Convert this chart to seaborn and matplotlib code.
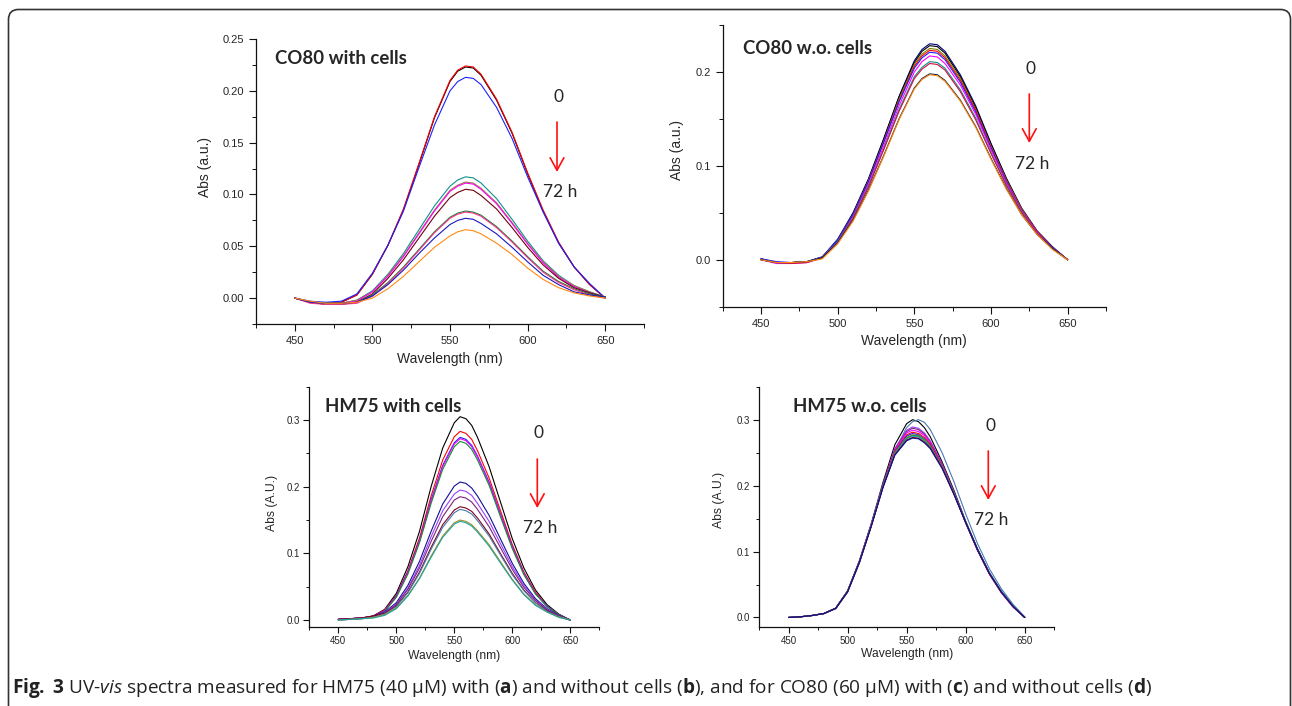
import numpy as np
import pandas as pd
import seaborn as sns
import matplotlib.pyplot as plt
from matplotlib.patches import FancyBboxPatch
from matplotlib.transforms import IdentityTransform
from matplotlib.ticker import MultipleLocator, FuncFormatter

W, H = 1292, 706

# wavelength grid (nm) shared by all spectra
wl = [450, 460, 470, 480, 490, 500, 510, 520, 530, 540, 550, 555, 560, 565, 570,
      580, 590, 600, 610, 620, 630, 640, 650]

# CO80 with cells (panel top-left)
co80_cells = [
    [0.000, -0.004, -0.005, -0.004, 0.003, 0.023, 0.051, 0.085, 0.129, 0.174, 0.209, 0.219, 0.223, 0.222, 0.215, 0.191, 0.159, 0.120, 0.084, 0.053, 0.030, 0.013, 0.000],
    [0.000, -0.004, -0.005, -0.004, 0.003, 0.023, 0.051, 0.086, 0.130, 0.175, 0.210, 0.220, 0.224, 0.223, 0.216, 0.192, 0.160, 0.121, 0.085, 0.054, 0.030, 0.013, 0.000],
    [0.000, -0.003, -0.004, -0.003, 0.004, 0.024, 0.051, 0.084, 0.126, 0.167, 0.200, 0.209, 0.213, 0.212, 0.206, 0.184, 0.154, 0.117, 0.083, 0.053, 0.030, 0.014, 0.000],
    [0.000, -0.004, -0.005, -0.005, -0.002, 0.007, 0.023, 0.043, 0.066, 0.089, 0.108, 0.114, 0.117, 0.116, 0.111, 0.096, 0.076, 0.055, 0.036, 0.022, 0.012, 0.006, 0.001],
    [0.000, -0.004, -0.005, -0.005, -0.002, 0.006, 0.022, 0.041, 0.063, 0.085, 0.104, 0.109, 0.112, 0.111, 0.106, 0.092, 0.073, 0.053, 0.035, 0.021, 0.012, 0.006, 0.001],
    [0.000, -0.004, -0.006, -0.005, -0.003, 0.006, 0.021, 0.040, 0.062, 0.084, 0.103, 0.108, 0.111, 0.110, 0.105, 0.091, 0.072, 0.052, 0.034, 0.020, 0.011, 0.005, 0.001],
    [0.000, -0.004, -0.006, -0.006, -0.004, 0.004, 0.019, 0.037, 0.058, 0.079, 0.097, 0.102, 0.105, 0.104, 0.099, 0.086, 0.068, 0.049, 0.032, 0.019, 0.010, 0.005, 0.001],
    [0.000, -0.004, -0.006, -0.006, -0.004, 0.003, 0.015, 0.030, 0.047, 0.064, 0.078, 0.082, 0.084, 0.083, 0.080, 0.069, 0.055, 0.040, 0.026, 0.016, 0.009, 0.004, 0.001],
    [0.000, -0.005, -0.006, -0.006, -0.005, 0.002, 0.014, 0.029, 0.046, 0.063, 0.077, 0.081, 0.083, 0.082, 0.079, 0.068, 0.054, 0.039, 0.025, 0.015, 0.008, 0.003, 0.000],
    [0.000, -0.004, -0.005, -0.005, -0.004, 0.002, 0.013, 0.027, 0.043, 0.058, 0.071, 0.075, 0.077, 0.076, 0.072, 0.062, 0.049, 0.035, 0.022, 0.013, 0.006, 0.003, 0.001],
    [0.000, -0.003, -0.005, -0.005, -0.004, 0.000, 0.009, 0.021, 0.035, 0.049, 0.060, 0.064, 0.066, 0.065, 0.062, 0.053, 0.042, 0.029, 0.018, 0.010, 0.005, 0.002, 0.000],
]
co80_cells_colors = ['#000000', '#ff0000', '#2020ff', '#109090', '#9a8040', '#ff00ff',
                     '#700010', '#108030', '#ff3090', '#1818c0', '#ff8a10']

# CO80 without cells (panel top-right)
co80_free = [
    [0.001, -0.003, -0.003, -0.002, 0.003, 0.022, 0.050, 0.086, 0.129, 0.174, 0.212, 0.224, 0.230, 0.229, 0.222, 0.197, 0.164, 0.124, 0.087, 0.055, 0.031, 0.014, 0.000],
    [0.001, -0.003, -0.003, -0.002, 0.003, 0.021, 0.049, 0.085, 0.128, 0.173, 0.210, 0.222, 0.228, 0.227, 0.220, 0.195, 0.162, 0.123, 0.086, 0.054, 0.030, 0.013, 0.000],
    [0.000, -0.003, -0.003, -0.002, 0.003, 0.021, 0.048, 0.084, 0.126, 0.171, 0.208, 0.219, 0.225, 0.224, 0.217, 0.193, 0.160, 0.121, 0.085, 0.054, 0.030, 0.013, 0.000],
    [0.000, -0.003, -0.003, -0.002, 0.002, 0.020, 0.047, 0.083, 0.125, 0.169, 0.206, 0.217, 0.223, 0.222, 0.215, 0.191, 0.159, 0.120, 0.084, 0.053, 0.030, 0.013, 0.000],
    [0.001, -0.002, -0.003, -0.002, 0.003, 0.021, 0.048, 0.083, 0.125, 0.168, 0.204, 0.215, 0.221, 0.220, 0.213, 0.189, 0.157, 0.119, 0.083, 0.052, 0.029, 0.013, 0.000],
    [0.000, -0.004, -0.004, -0.003, 0.002, 0.019, 0.046, 0.080, 0.121, 0.164, 0.200, 0.211, 0.217, 0.216, 0.209, 0.186, 0.155, 0.117, 0.082, 0.052, 0.029, 0.012, 0.000],
    [0.000, -0.003, -0.003, -0.002, 0.002, 0.019, 0.045, 0.078, 0.118, 0.160, 0.195, 0.205, 0.211, 0.210, 0.204, 0.181, 0.151, 0.114, 0.080, 0.051, 0.028, 0.012, 0.000],
    [0.000, -0.003, -0.004, -0.003, 0.002, 0.018, 0.044, 0.077, 0.117, 0.158, 0.193, 0.203, 0.209, 0.208, 0.202, 0.179, 0.149, 0.113, 0.079, 0.050, 0.028, 0.012, 0.000],
    [0.000, -0.003, -0.003, -0.002, 0.002, 0.018, 0.042, 0.074, 0.111, 0.150, 0.183, 0.193, 0.198, 0.197, 0.191, 0.170, 0.142, 0.108, 0.076, 0.048, 0.027, 0.012, 0.000],
    [0.000, -0.003, -0.003, -0.002, 0.001, 0.017, 0.041, 0.073, 0.110, 0.149, 0.182, 0.192, 0.197, 0.196, 0.190, 0.169, 0.141, 0.107, 0.075, 0.048, 0.027, 0.011, 0.000],
]
co80_free_colors = ['#000080', '#000000', '#808000', '#ff0000', '#2020ff', '#ff00ff',
                    '#109090', '#d01040', '#102040', '#ff8a10']

# HM75 with cells (panel bottom-left)
hm75_cells = [
    [0.001, 0.002, 0.003, 0.006, 0.016, 0.040, 0.080, 0.133, 0.200, 0.258, 0.296, 0.305, 0.302, 0.292, 0.274, 0.230, 0.176, 0.122, 0.078, 0.045, 0.023, 0.009, 0.000],
    [0.001, 0.002, 0.003, 0.006, 0.015, 0.037, 0.074, 0.123, 0.186, 0.240, 0.275, 0.283, 0.280, 0.271, 0.254, 0.213, 0.163, 0.113, 0.072, 0.042, 0.021, 0.008, 0.000],
    [0.001, 0.002, 0.003, 0.005, 0.014, 0.036, 0.072, 0.119, 0.180, 0.232, 0.266, 0.274, 0.271, 0.262, 0.246, 0.207, 0.158, 0.110, 0.070, 0.040, 0.021, 0.008, 0.000],
    [0.001, 0.002, 0.003, 0.005, 0.014, 0.035, 0.071, 0.118, 0.178, 0.230, 0.264, 0.272, 0.269, 0.260, 0.244, 0.205, 0.157, 0.109, 0.069, 0.040, 0.020, 0.008, 0.000],
    [0.000, 0.001, 0.002, 0.005, 0.013, 0.034, 0.069, 0.116, 0.175, 0.226, 0.260, 0.268, 0.265, 0.256, 0.240, 0.202, 0.154, 0.107, 0.068, 0.039, 0.020, 0.008, 0.000],
    [0.001, 0.002, 0.003, 0.006, 0.012, 0.026, 0.052, 0.088, 0.133, 0.174, 0.201, 0.207, 0.205, 0.198, 0.186, 0.157, 0.121, 0.085, 0.055, 0.032, 0.017, 0.007, 0.000],
    [0.001, 0.002, 0.003, 0.005, 0.011, 0.024, 0.048, 0.082, 0.125, 0.164, 0.189, 0.195, 0.193, 0.187, 0.175, 0.148, 0.114, 0.080, 0.052, 0.030, 0.016, 0.006, 0.000],
    [0.001, 0.002, 0.003, 0.005, 0.010, 0.023, 0.046, 0.078, 0.118, 0.155, 0.180, 0.185, 0.183, 0.177, 0.166, 0.140, 0.108, 0.076, 0.049, 0.029, 0.015, 0.006, 0.000],
    [0.001, 0.002, 0.003, 0.006, 0.010, 0.021, 0.042, 0.072, 0.109, 0.143, 0.165, 0.170, 0.168, 0.163, 0.153, 0.129, 0.099, 0.070, 0.045, 0.026, 0.014, 0.005, 0.000],
    [0.000, 0.001, 0.002, 0.004, 0.009, 0.020, 0.041, 0.070, 0.106, 0.139, 0.161, 0.166, 0.164, 0.159, 0.149, 0.126, 0.097, 0.068, 0.044, 0.026, 0.013, 0.005, 0.000],
    [0.000, 0.001, 0.002, 0.004, 0.008, 0.018, 0.037, 0.063, 0.096, 0.126, 0.146, 0.150, 0.148, 0.143, 0.134, 0.113, 0.087, 0.061, 0.039, 0.023, 0.012, 0.005, 0.000],
    [0.000, 0.001, 0.002, 0.003, 0.007, 0.017, 0.036, 0.062, 0.094, 0.124, 0.144, 0.148, 0.146, 0.141, 0.132, 0.111, 0.085, 0.060, 0.038, 0.022, 0.012, 0.004, 0.000],
]
hm75_cells_colors = ['#000000', '#ff0000', '#2020ff', '#ff00ff', '#109030', '#101090',
                     '#9a40ff', '#802080', '#800020', '#4a7ab0', '#a09020', '#20a0a0']

# HM75 without cells (panel bottom-right)
hm75_free = [
    [0.000, 0.001, 0.003, 0.006, 0.014, 0.040, 0.086, 0.142, 0.205, 0.262, 0.294, 0.300, 0.297, 0.288, 0.274, 0.236, 0.193, 0.146, 0.104, 0.068, 0.040, 0.018, 0.000],
    [0.000, 0.001, 0.003, 0.006, 0.013, 0.038, 0.083, 0.139, 0.200, 0.254, 0.288, 0.297, 0.300, 0.296, 0.285, 0.250, 0.206, 0.157, 0.112, 0.074, 0.044, 0.020, 0.001],
    [0.000, 0.001, 0.003, 0.006, 0.014, 0.040, 0.085, 0.141, 0.202, 0.256, 0.284, 0.289, 0.287, 0.280, 0.268, 0.233, 0.191, 0.145, 0.103, 0.067, 0.039, 0.017, 0.000],
    [0.000, 0.001, 0.003, 0.006, 0.014, 0.040, 0.085, 0.141, 0.201, 0.255, 0.282, 0.287, 0.285, 0.278, 0.266, 0.232, 0.190, 0.144, 0.102, 0.066, 0.038, 0.016, 0.000],
    [0.000, 0.001, 0.003, 0.006, 0.014, 0.040, 0.085, 0.140, 0.200, 0.254, 0.280, 0.284, 0.282, 0.276, 0.265, 0.231, 0.189, 0.143, 0.102, 0.066, 0.038, 0.016, 0.000],
    [0.000, 0.001, 0.003, 0.006, 0.014, 0.040, 0.085, 0.140, 0.200, 0.252, 0.277, 0.281, 0.279, 0.273, 0.263, 0.230, 0.189, 0.144, 0.102, 0.066, 0.039, 0.017, 0.000],
    [0.000, 0.001, 0.003, 0.006, 0.014, 0.040, 0.085, 0.140, 0.200, 0.251, 0.275, 0.279, 0.277, 0.271, 0.261, 0.229, 0.188, 0.144, 0.102, 0.067, 0.039, 0.017, 0.000],
    [0.000, 0.001, 0.003, 0.006, 0.014, 0.040, 0.084, 0.139, 0.199, 0.250, 0.273, 0.277, 0.276, 0.270, 0.260, 0.229, 0.188, 0.144, 0.103, 0.067, 0.039, 0.017, 0.000],
    [0.000, 0.001, 0.003, 0.006, 0.014, 0.040, 0.084, 0.139, 0.199, 0.249, 0.272, 0.276, 0.275, 0.269, 0.259, 0.228, 0.188, 0.144, 0.103, 0.067, 0.039, 0.017, 0.000],
    [0.000, 0.001, 0.003, 0.006, 0.014, 0.039, 0.084, 0.139, 0.198, 0.248, 0.271, 0.275, 0.274, 0.268, 0.258, 0.228, 0.188, 0.145, 0.104, 0.068, 0.040, 0.018, 0.000],
    [0.000, 0.001, 0.003, 0.006, 0.014, 0.039, 0.084, 0.138, 0.198, 0.247, 0.269, 0.273, 0.272, 0.266, 0.257, 0.227, 0.187, 0.144, 0.103, 0.067, 0.039, 0.017, 0.000],
    [0.000, 0.001, 0.003, 0.006, 0.014, 0.039, 0.083, 0.138, 0.197, 0.246, 0.268, 0.272, 0.271, 0.265, 0.256, 0.226, 0.187, 0.144, 0.103, 0.067, 0.039, 0.017, 0.000],
]
hm75_free_colors = ['#000000', '#4a7ab0', '#9a40ff', '#802080', '#ff00ff', '#ff0000',
                    '#2020ff', '#a09020', '#109030', '#20a0a0', '#800020', '#101090']

sns.set_style('ticks')
plt.rcParams['font.family'] = ['Liberation Sans', 'DejaVu Sans']
plt.rcParams['mathtext.fontset'] = 'custom'
plt.rcParams['mathtext.rm'] = 'Open Sans'
plt.rcParams['mathtext.it'] = 'Open Sans:italic'
plt.rcParams['mathtext.bf'] = 'Open Sans:bold'

fig = plt.figure(figsize=(W / 100, H / 100), dpi=100)


def fx(x):
    return x / W


def fy(y):
    return 1 - y / H


panels = [
    dict(curves=co80_cells, colors=co80_cells_colors, box=(256, 39, 644, 324),
         ylim=(-0.025, 0.25), ymaj=0.05, ymin=0.025, dec=2, ylabel='Abs (a.u.)',
         tick=8, lab=10, ylab_xy=(212, 166.7), xlab_y=352, tlen=5, pad=3.5,
         title='CO80 with cells', title_xy=(275, 58), tsize=13.4,
         zero=(558, 97), arrow=(557, 122, 172), h72=(560, 192)),
    dict(curves=co80_free, colors=co80_free_colors, box=(722.7, 25, 1106, 306.7),
         ylim=(-0.05, 0.25), ymaj=0.1, ymin=0.05, dec=1, ylabel='Abs (a.u.)',
         tick=8, lab=10, ylab_xy=(684, 150), xlab_y=334, tlen=5, pad=3.5,
         title='CO80 w.o. cells', title_xy=(743, 48), tsize=13.4,
         zero=(1031, 69), arrow=(1029.3, 94, 143), h72=(1032, 164)),
    dict(curves=hm75_cells, colors=hm75_cells_colors, box=(309.3, 386.7, 599.3, 626.7),
         ylim=(-0.01, 0.35), ymaj=0.1, ymin=0.05, dec=1, ylabel='Abs (A.U.)',
         tick=7, lab=8.7, ylab_xy=(278, 503.3), xlab_y=649.5, tlen=4, pad=2.5,
         title='HM75 with cells', title_xy=(325, 406.7), tsize=13.4,
         zero=(539, 433), arrow=(537.3, 459, 508), h72=(540, 528)),
    dict(curves=hm75_free, colors=hm75_free_colors, box=(759, 386.7, 1054.3, 626.7),
         ylim=(-0.014, 0.35), ymaj=0.1, ymin=0.05, dec=1, ylabel='Abs (A.U.)',
         tick=7, lab=8.7, ylab_xy=(725, 500), xlab_y=648.3, tlen=4, pad=2.5,
         title='HM75 w.o. cells', title_xy=(793, 406.7), tsize=13.4,
         zero=(990, 426), arrow=(988.3, 451, 500), h72=(991, 520)),
]

for p in panels:
    l, t, r, b = p['box']
    ax = fig.add_axes([fx(l), fy(b), fx(r - l), (b - t) / H])
    n = len(p['curves'])
    df = pd.DataFrame({
        'wavelength': wl * n,
        'abs': sum(p['curves'], []),
        'curve': np.repeat([f'c{i}' for i in range(n)], len(wl)),
    })
    pal = {f'c{i}': c for i, c in enumerate(p['colors'])}
    sns.lineplot(data=df, x='wavelength', y='abs', hue='curve', palette=pal,
                 estimator=None, legend=False, lw=0.8, ax=ax)
    ax.set_xlim(425, 675)
    ax.set_ylim(*p['ylim'])
    ax.xaxis.set_major_locator(MultipleLocator(50))
    ax.xaxis.set_minor_locator(MultipleLocator(25))
    ax.yaxis.set_major_locator(MultipleLocator(p['ymaj']))
    ax.yaxis.set_minor_locator(MultipleLocator(p['ymin']))
    dec = p['dec']
    ax.yaxis.set_major_formatter(FuncFormatter(lambda v, pos, d=dec: f'{round(v, 4) + 0:.{d}f}'))
    sns.despine(ax=ax)
    for s in ('left', 'bottom'):
        ax.spines[s].set_linewidth(0.9)
        ax.spines[s].set_color('#111111')
    ax.tick_params(which='major', direction='out', length=p['tlen'], width=0.8,
                   labelsize=p['tick'], pad=p['pad'], color='#111111')
    ax.tick_params(which='minor', direction='out', length=p['tlen'] * 0.55, width=0.7,
                   color='#111111')
    ax.set_xlabel('Wavelength (nm)', fontsize=p['lab'])
    ax.set_ylabel(p['ylabel'], fontsize=p['lab'])
    yx, yy = p['ylab_xy']
    ax.yaxis.set_label_coords((yx - l) / (r - l), (b - yy) / (b - t))
    ax.xaxis.set_label_coords(0.5, -(p['xlab_y'] - b) / (b - t))

    fig.text(fx(p['title_xy'][0]), fy(p['title_xy'][1]), p['title'], family='Lato',
             weight='bold', fontsize=p['tsize'], ha='left', va='center')
    fig.text(fx(p['zero'][0]), fy(p['zero'][1]), '0', family='Lato', fontsize=12.5,
             ha='center', va='center')
    fig.text(fx(p['h72'][0]), fy(p['h72'][1]), '72 h', family='Lato', fontsize=12.5,
             ha='center', va='center')
    axx, ay0, ay1 = p['arrow']
    fig.add_artist(plt.Annotation('', xy=(fx(axx), fy(ay1)), xytext=(fx(axx), fy(ay0)),
                                  xycoords='figure fraction', textcoords='figure fraction',
                                  arrowprops=dict(arrowstyle='->,head_length=0.6,head_width=0.33',
                                                  color='#ff1010', lw=1.2, mutation_scale=15,
                                                  shrinkA=0, shrinkB=0)))

caption = (r'$\mathbf{Fig.}$ $\mathbf{3}$ UV-$\mathit{vis}$ spectra measured for HM75 (40 μM) with '
           r'($\mathbf{a}$) and without cells ($\mathbf{b}$), and for CO80 (60 μM) with '
           r'($\mathbf{c}$) and without cells ($\mathbf{d}$)')
fig.text(fx(12), fy(688), caption, family='Open Sans', fontsize=13.7, ha='left', va='center',
         color='#222222')

frame = FancyBboxPatch((8.5, -30), 1282, 696.5 + 30,
                       boxstyle='round,pad=0,rounding_size=10',
                       transform=IdentityTransform(), fill=False, ec='#333333', lw=1.2)
fig.add_artist(frame)

fig.savefig('out.png', dpi=100)
